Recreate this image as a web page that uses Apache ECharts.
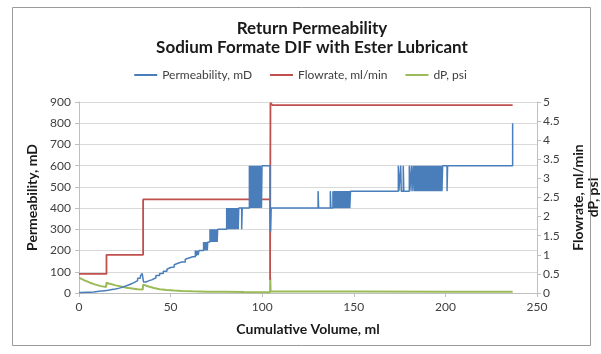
<!DOCTYPE html>
<html>
<head>
<meta charset="utf-8">
<script src="https://cdn.jsdelivr.net/npm/echarts/dist/echarts.min.js"></script>
<style>
  html, body { margin: 0; padding: 0; background: #fff; }
  #chart { width: 601px; height: 354px; }
</style>
</head>
<body>
<div id="chart"></div>
<script>
// Return permeability test: permeability (left axis), flowrate and dP (right axis)
const titleLines = ['Return Permeability', 'Sodium Formate DIF with Ester Lubricant'];
const seriesNames = ['Permeability, mD', 'Flowrate, ml/min', 'dP, psi'];
const xTicks = [0, 50, 100, 150, 200, 250];
const leftTicks = [0, 100, 200, 300, 400, 500, 600, 700, 800, 900];
const rightTicks = [0, 0.5, 1, 1.5, 2, 2.5, 3, 3.5, 4, 4.5, 5];

// Permeability, mD vs cumulative volume (held until the next point)
const permeability = [
  [0,2],[2,3],[4,4],[6,5],[8,7],[10,9],[12,11],[14,13],[16,16],[18,19],[20,23],[22,28],
  [24,34],[26,41],[28,49],[30,58],[32,69],[33.5,80],[34.5,92],[35.2,52],[36.5,57],[38,63],
  [40,72],[42,82],[44,92],[46,102],[48,112],[49,120],[50,128],[51,122],[52,133],[53,140],
  [54,133],[55,146],[56,153],[57,146],[58,159],[59,165],[60,158],[61,171],[62,178],[63,171],
  [63.5,200],[64,175],[64.5,200],[65,178],[65.5,200],
  [68,240],[68.4,200],[68.8,240],[69.2,200],[69.6,240],[70,200],[70.3,240],
  [71.5,300],[71.8,240],[72.1,300],[72.4,240],[72.7,300],[73,240],[73.3,300],[73.6,240],
  [73.9,300],[74.2,240],[74.5,300],[74.8,240],[75.1,300],[75.4,240],[75.7,300],
  [80.6,400],[80.9,300],[81.2,400],[81.5,300],[81.8,400],[82.1,300],[82.4,400],[82.7,300],
  [83,400],[83.3,300],[83.6,400],[83.9,300],[84.2,400],[84.5,300],[84.8,400],[85.1,300],
  [85.4,400],[85.7,300],[86,400],[86.3,300],[86.6,400],[86.9,300],[87.2,400],
  [88.8,300],[89.1,400],
  [93,600],[93.3,400],[93.6,600],[93.9,400],[94.2,600],[94.5,400],[94.8,600],[95.1,400],
  [95.4,600],[95.7,400],[96,600],[96.3,400],[96.6,600],[96.9,400],[97.2,600],[97.5,400],
  [97.8,600],[98.1,400],[98.4,600],[98.7,400],[99,600],
  [99.6,400],[99.9,600],
  [104.3,400],[104.6,290],[104.9,400],
  [130.5,480],[130.8,400],
  [137.2,480],[137.5,400],
  [138.6,480],[139,400],[139.4,480],[139.8,400],[140.2,480],[140.6,400],[141,480],[141.4,400],
  [141.8,480],[142.2,400],[142.6,480],[143,400],[143.4,480],[143.8,400],[144.2,480],[144.6,400],
  [145,480],[145.4,400],[145.8,480],[146.2,400],[146.6,480],[147,400],[147.4,480],[147.8,400],
  [148.2,480],
  [174.3,600],[174.6,480],[175.6,600],[175.9,480],[177,600],[177.3,480],
  [180.3,600],[180.6,480],[181.5,600],[181.8,480],
  [182.5,600],[182.9,480],[183.3,600],[183.7,480],[184.1,600],[184.5,480],[184.9,600],[185.3,480],
  [185.7,600],[186.1,480],[186.5,600],[186.9,480],[187.3,600],[187.7,480],[188.1,600],[188.5,480],
  [188.9,600],[189.3,480],[189.7,600],[190.1,480],[190.5,600],[190.9,480],[191.3,600],[191.7,480],
  [192.1,600],[192.5,480],[192.9,600],[193.3,480],[193.7,600],[194.1,480],[194.5,600],[194.9,480],
  [195.3,600],[195.7,480],[196.1,600],[196.5,480],[196.9,600],[197.3,480],[197.7,600],[198.1,480],
  [198.5,600],
  [200.9,480],[201.2,600],
  [236.7,800]
];

// Flowrate, ml/min (held until the next point)
const flowrate = [
  [0,0.5],[15,1.0],[35,2.45],[104.3,0.35],[104.5,4.98],[105.5,4.92],[236.7,4.92]
];

// Differential pressure, psi
const dP = [
  [0,0.40],[3,0.33],[6,0.27],[9,0.22],[12,0.18],[14.8,0.16],[15,0.27],[17,0.24],[20,0.20],
  [23,0.17],[26,0.14],[29,0.12],[32,0.10],[34.8,0.09],[35,0.22],[38,0.17],[41,0.13],[44,0.10],
  [48,0.08],[52,0.065],[56,0.055],[62,0.045],[70,0.035],[80,0.03],[90,0.025],[100,0.022],
  [104.3,0.02],[104.4,0.40],[104.6,0.04],[120,0.04],[150,0.04],[200,0.035],[236.7,0.035]
];

const FONT = 'Lato, "Liberation Sans", sans-serif';
const TEXT = '#404040';
const DARK = '#1a1a1a';

const chart = echarts.init(document.getElementById('chart'), null, { renderer: 'canvas' });
chart.setOption({
  animation: false,
  backgroundColor: '#fff',
  textStyle: { fontFamily: FONT },
  graphic: [{
    type: 'rect', silent: true,
    shape: { x: 12.5, y: 7.5, width: 578, height: 338 },
    style: { fill: 'none', stroke: '#9a9a9a', lineWidth: 1 }
  }],
  title: {
    text: titleLines.join('\n'),
    left: 312, top: 19, textAlign: 'center', padding: 0,
    textStyle: { fontFamily: FONT, fontSize: 17, fontWeight: 'bold', color: DARK, lineHeight: 19 }
  },
  legend: {
    data: seriesNames,
    left: 'center', top: 64,
    icon: 'rect', itemWidth: 23, itemHeight: 2, itemGap: 18,
    textStyle: { fontFamily: FONT, fontSize: 12, color: TEXT }
  },
  grid: { left: 79, right: 64, top: 102, bottom: 61, containLabel: false, outerBoundsMode: 'none' },
  xAxis: {
    type: 'value', min: 0, max: 250, interval: 50,
    name: 'Cumulative Volume, ml', nameLocation: 'middle', nameGap: 29,
    nameTextStyle: { fontFamily: FONT, fontSize: 14, fontWeight: 'bold', color: DARK },
    axisLine: { show: true, lineStyle: { color: '#bfbfbf' } },
    axisTick: { show: true, length: 4, lineStyle: { color: '#bfbfbf' } },
    axisLabel: { fontFamily: FONT, fontSize: 12, color: TEXT, margin: 8,
      formatter: v => (xTicks.includes(v) ? String(v) : '') },
    splitLine: { show: false }
  },
  yAxis: [{
    type: 'value', min: 0, max: 900, interval: 100,
    name: 'Permeability, mD', nameLocation: 'middle', nameGap: 32, nameRotate: 90,
    nameTextStyle: { fontFamily: FONT, fontSize: 14, fontWeight: 'bold', color: DARK },
    axisLine: { show: true, lineStyle: { color: '#bfbfbf' } },
    axisTick: { show: true, length: 4, lineStyle: { color: '#bfbfbf' } },
    axisLabel: { fontFamily: FONT, fontSize: 12, color: TEXT, margin: 8,
      formatter: v => (leftTicks.includes(v) ? String(v) : '') },
    splitLine: { show: true, lineStyle: { color: '#d9d9d9', width: 1 } }
  }, {
    type: 'value', min: 0, max: 5, interval: 0.5, position: 'right',
    name: 'Flowrate, ml/min\ndP, psi', nameLocation: 'middle', nameGap: 33, nameRotate: 90,
    nameTextStyle: { fontFamily: FONT, fontSize: 14, fontWeight: 'bold', color: DARK, lineHeight: 15 },
    axisLine: { show: true, lineStyle: { color: '#bfbfbf' } },
    axisTick: { show: true, length: 4, lineStyle: { color: '#bfbfbf' } },
    axisLabel: { fontFamily: FONT, fontSize: 12, color: TEXT, margin: 6,
      formatter: v => (rightTicks.includes(v) ? String(v) : '') },
    splitLine: { show: false }
  }],
  series: [{
    name: seriesNames[0], type: 'line', yAxisIndex: 0, step: 'end',
    data: permeability, showSymbol: false, symbol: 'none',
    lineStyle: { color: '#4a7ebb', width: 1.5 }, itemStyle: { color: '#4a7ebb' }, z: 3
  }, {
    name: seriesNames[1], type: 'line', yAxisIndex: 1, step: 'end',
    data: flowrate, showSymbol: false, symbol: 'none',
    lineStyle: { color: '#c0504d', width: 1.8 }, itemStyle: { color: '#c0504d' }, z: 2
  }, {
    name: seriesNames[2], type: 'line', yAxisIndex: 1,
    data: dP, showSymbol: false, symbol: 'none',
    lineStyle: { color: '#9bbb59', width: 2 }, itemStyle: { color: '#9bbb59' }, z: 1
  }]
});
</script>
</body>
</html>
